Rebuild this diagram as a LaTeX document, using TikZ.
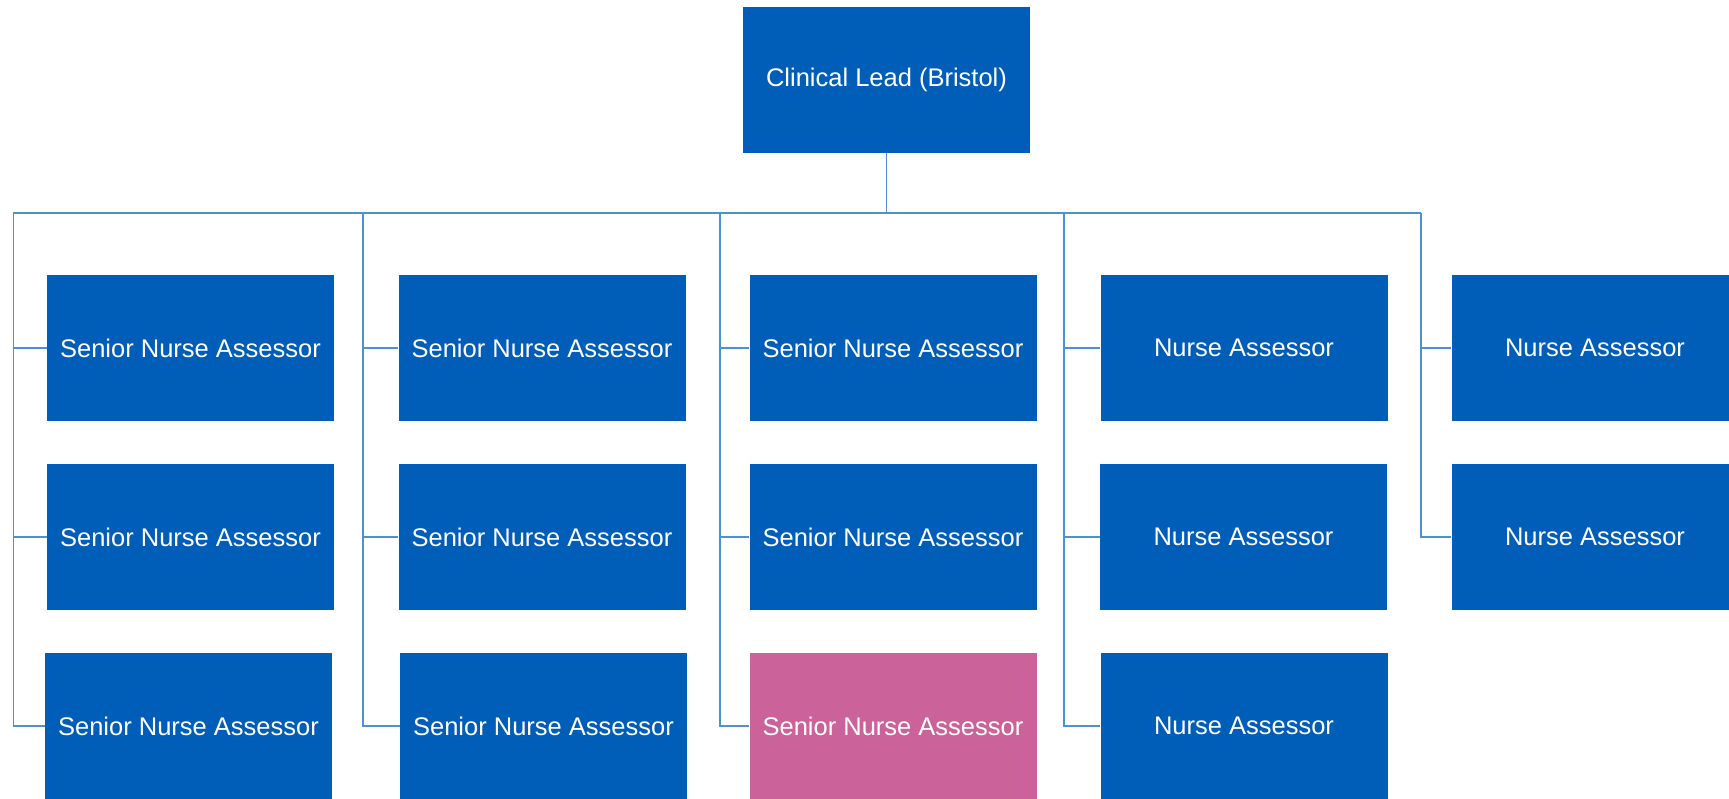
\documentclass[tikz,border=0pt]{standalone}
\usepackage{fontspec}
\setmainfont{Liberation Sans}
\definecolor{nhsblue}{RGB}{0,94,184}
\definecolor{nhspink}{RGB}{203,98,153}
\definecolor{linkblue}{RGB}{76,145,212}
\tikzset{
  post/.style={fill=nhsblue,text=white,minimum width=287pt,minimum height=146pt,
    inner sep=0pt,font=\fontsize{25.5}{30}\selectfont},
  link/.style={draw=linkblue,line width=1.5pt},
}

\begin{document}
\begin{tikzpicture}[x=1pt,y=-1pt]
  \useasboundingbox (0,0) rectangle (1729,798);
  \clip (0,0) rectangle (1729,798);
  % top post
  \node[post] (lead) at (886.5,80) {Clinical Lead (Bristol)};
  % bus and column drops
  \coordinate (c1) at (13.3,213);
  \coordinate (c2) at (363,213);
  \coordinate (c3) at (720,213);
  \coordinate (c4) at (1064,213);
  \coordinate (c5) at (1421,213);
  % columns
  \node[post] (s11) at (190.5,348) {Senior Nurse Assessor};
  \node[post] (s12) at (190.5,537) {Senior Nurse Assessor};
  \node[post] (s13) at (188.5,726) {Senior Nurse Assessor};
  \node[post] (s21) at (542,348) {Senior Nurse Assessor};
  \node[post] (s22) at (542,537) {Senior Nurse Assessor};
  \node[post] (s23) at (543.5,726) {Senior Nurse Assessor};
  \node[post] (s31) at (893,348) {Senior Nurse Assessor};
  \node[post] (s32) at (893,537) {Senior Nurse Assessor};
  \node[post,fill=nhspink] (s33) at (893,726) {Senior Nurse Assessor};
  \node[post] (n41) at (1244,348) {Nurse Assessor};
  \node[post] (n42) at (1243.5,537) {Nurse Assessor};
  \node[post] (n43) at (1244,726) {Nurse Assessor};
  \node[post] (n51) at (1595,348) {Nurse Assessor};
  \node[post] (n52) at (1595,537) {Nurse Assessor};
  % connectors
  \draw[link] (lead.south) -- (lead.south |- c1);
  \draw[link] (c1) -- (c5);
  \foreach \c/\b in {c1/s11,c1/s12,c1/s13,c2/s21,c2/s22,c2/s23,c3/s31,c3/s32,c3/s33,
                     c4/n41,c4/n42,c4/n43,c5/n51,c5/n52}
    \draw[link] (\c) |- (\b.west);
\end{tikzpicture}
\end{document}
